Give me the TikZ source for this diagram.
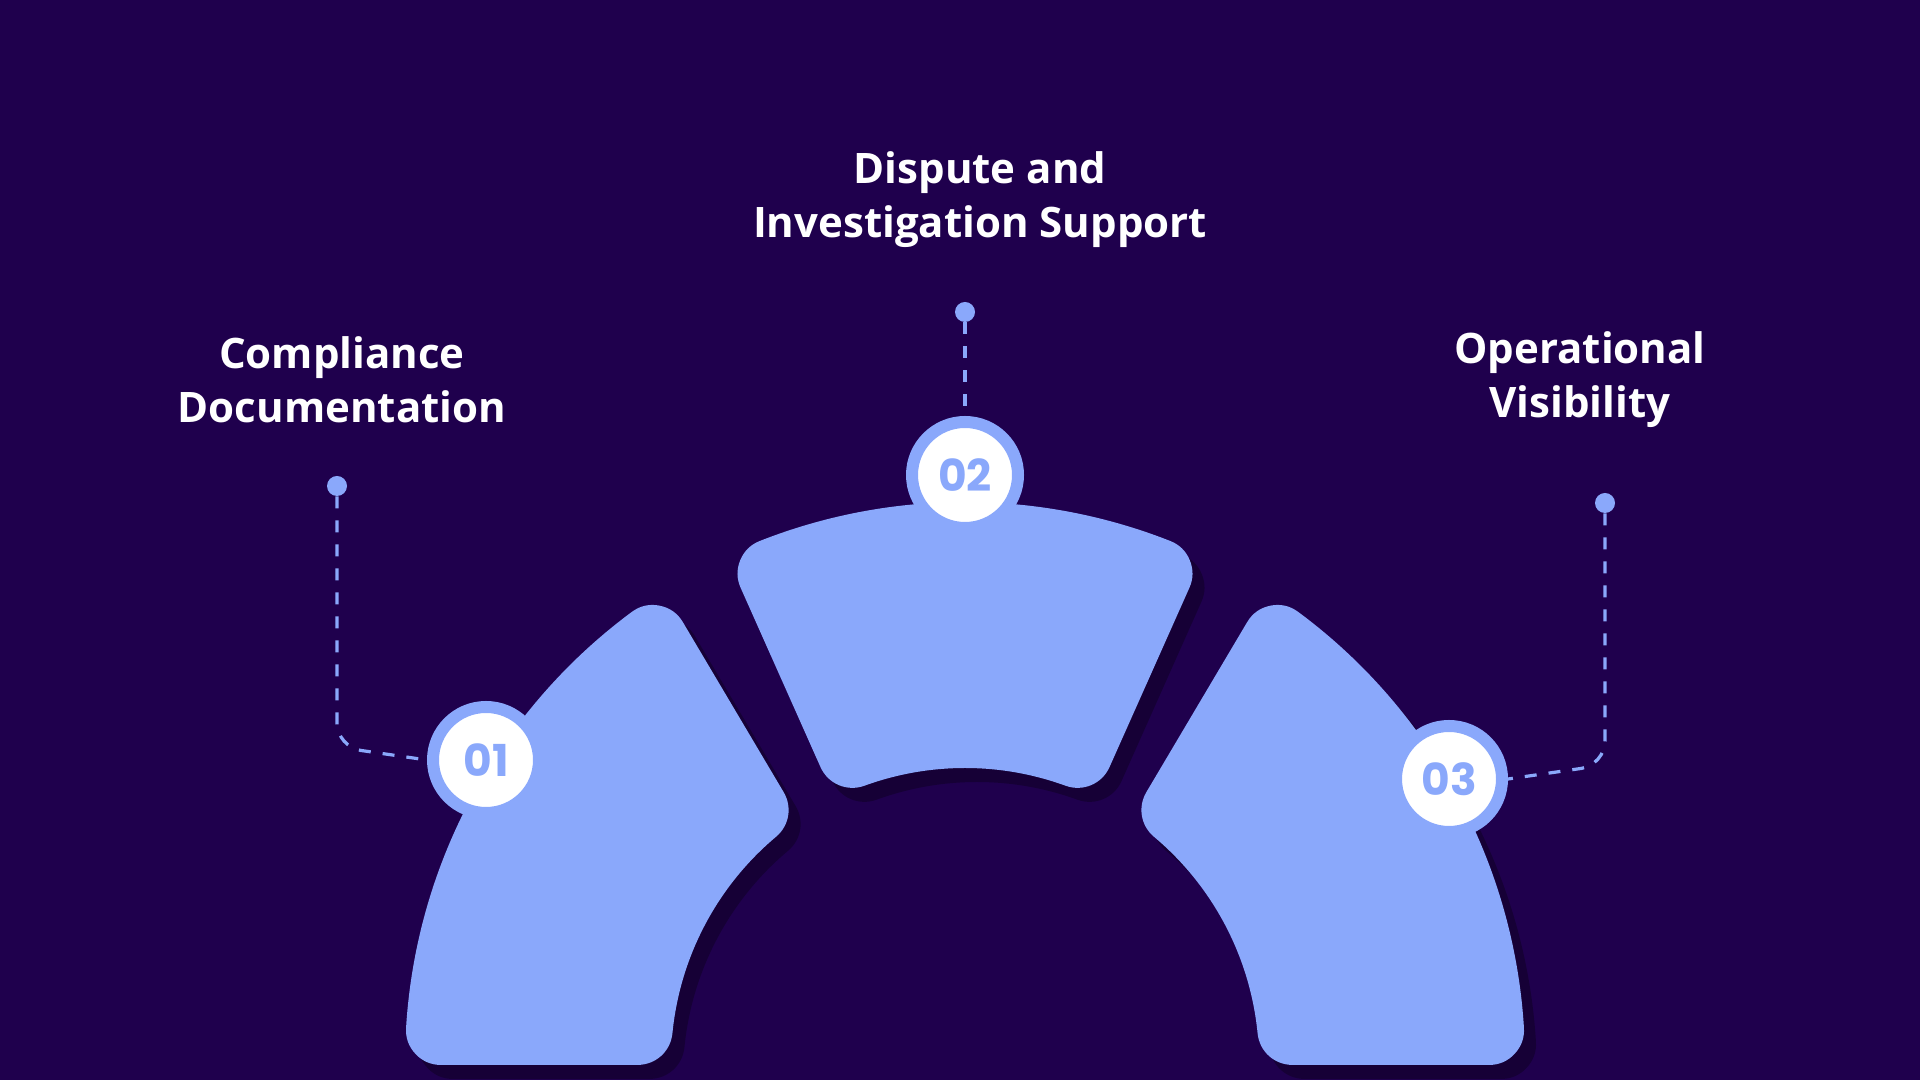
\documentclass[tikz,border=0pt]{standalone}
\usepackage{fontspec}
\setmainfont{Open Sans}
\newfontfamily\numfont{Poppins}
\begin{document}
\begin{tikzpicture}[x=0.5pt,y=0.5pt,
  seg/.style={fill=segc,draw=segc,line width=35pt,line join=round},
  shd/.style={fill=shadc,draw=shadc,line width=35pt,line join=round},
  ring/.style={circle,fill=white,draw=segc,line width=6pt,minimum size=53pt,inner sep=0pt,font=\numfont\bfseries\fontsize{22}{22}\selectfont,text=segc},
  dot/.style={circle,fill=segc,minimum size=10pt,inner sep=0pt},
  lead/.style={draw=segc,line width=1.6pt,dash pattern=on 6pt off 6pt},
  ttl/.style={align=center,text=white,font=\bfseries\fontsize{21}{27}\selectfont}]
\definecolor{bgc}{HTML}{1F004D}
\definecolor{segc}{HTML}{8AA8FB}
\definecolor{shadc}{HTML}{160036}
\fill[bgc] (0,0) rectangle (1920,1080);
\useasboundingbox (0,0) rectangle (1920,1080);
\def\R{525}\def\r{329}
\def\shapes#1{%
\path[#1] ([shift={(965,18)}]126.5:\R) arc (126.5:176.5:\R) -- ([shift={(965,18)}]174.4:\r) arc (174.4:130:\r) -- cycle;
\path[#1] ([shift={(965,18)}]68.5:\R) arc (68.5:111.5:\R) -- ([shift={(965,18)}]110:\r) arc (110:70:\r) -- cycle;
\path[#1] ([shift={(965,18)}]53.5:\R) arc (53.5:3.5:\R) -- ([shift={(965,18)}]5.6:\r) arc (5.6:50:\r) -- cycle;}
\begin{scope}[shift={(12,-14)}]\shapes{shd}\end{scope}
\shapes{seg}
% markers
\node[ring] (n1) at (486,320) {01};
\node[ring] (n2) at (965,605) {02};
\node[ring] (n3) at (1449,301) {03};
\node[dot] (d1) at (337,594) {};
\node[dot] (d2) at (965,768) {};
\node[dot] (d3) at (1605,577) {};
\coordinate (c1) at (337,333);
\coordinate (c3) at (1605,315);
\draw[lead,rounded corners=12pt] (d1) -- (c1) -- (n1.west);
\draw[lead] (d2) -- (n2.north);
\draw[lead,rounded corners=12pt] (d3) -- (c3) -- (n3.east);
\node[ttl] (t1) at (342,700) {Compliance\\Documentation};
\node[ttl] (t2) at (980,880) {Dispute and\\Investigation Support};
\node[ttl] (t3) at (1580,700) {Operational\\Visibility};
\end{tikzpicture}
\end{document}
